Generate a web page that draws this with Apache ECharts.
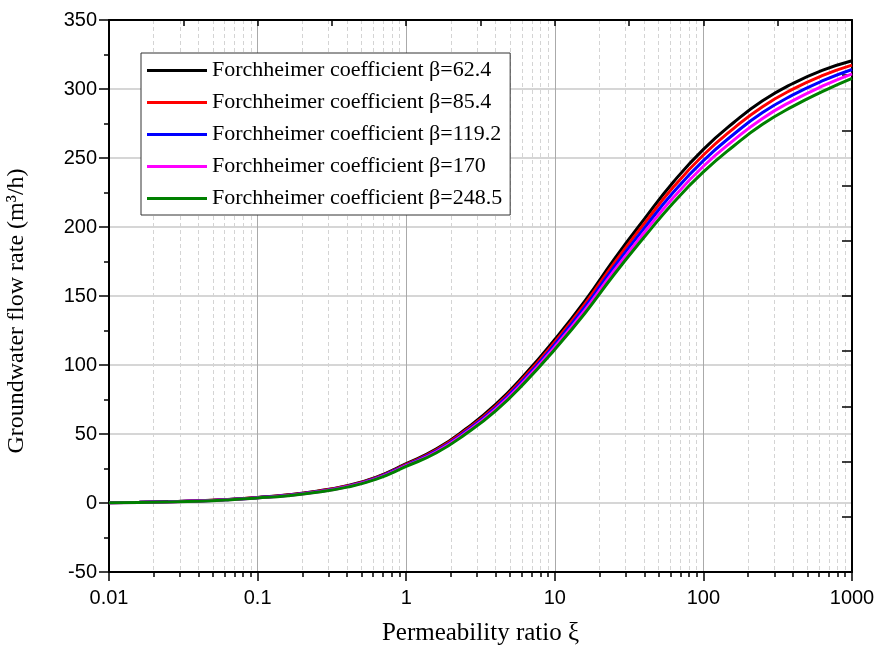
<!DOCTYPE html>
<html>
<head>
<meta charset="utf-8">
<script src="https://cdn.jsdelivr.net/npm/echarts@6/dist/echarts.min.js"></script>
<style>html,body{margin:0;padding:0;background:#fff;}#c{width:877px;height:651px;}</style>
</head>
<body>
<div id="c"></div>
<script>
// Permeability ratio ξ (x values)
const xi = [0.01,0.016,0.025,0.04,0.063,0.1,0.16,0.25,0.4,0.63,1,1.6,2.5,4,6.3,10,16,25,40,63,100,160,250,400,630,1000];
// Groundwater flow rate (m3/h) for each Forchheimer coefficient
const q624  = [0.3,0.6,1.0,1.6,2.6,4.0,5.9,8.6,12.6,18.8,28.5,39.2,53.4,71.4,93.2,118.5,146.7,176.4,205.7,232.8,256.3,275.7,291.4,304.0,313.5,320.5];
const q854  = [0.25,0.55,0.94,1.53,2.51,3.9,5.75,8.4,12.3,18.4,28.0,38.5,52.5,70.3,91.8,116.7,144.5,173.7,202.5,229.1,252.2,271.5,287.2,299.9,309.7,317.3];
const q1192 = [0.2,0.5,0.88,1.45,2.43,3.8,5.6,8.2,12.05,18.05,27.5,37.8,51.6,69.1,90.3,114.9,142.2,170.9,199.2,225.3,248.1,267.2,282.9,295.7,305.8,314.1];
const q170  = [0.15,0.45,0.81,1.38,2.34,3.7,5.45,8.0,11.8,17.7,27.0,37.1,50.7,68.0,88.9,113.1,140.0,168.2,196.0,221.5,244.0,262.9,278.7,291.6,302.0,311.0];
const q2485 = [0.1,0.4,0.75,1.3,2.25,3.6,5.3,7.8,11.5,17.3,26.5,36.4,49.8,66.8,87.4,111.3,137.7,165.4,192.7,217.8,239.9,258.7,274.4,287.4,298.1,307.7];
const seriesNames = ['Forchheimer coefficient β=62.4','Forchheimer coefficient β=85.4','Forchheimer coefficient β=119.2','Forchheimer coefficient β=170','Forchheimer coefficient β=248.5'];
const seriesColors = ['#000000','#ff0000','#0000ff','#ff00ff','#008000'];
const seriesValues = [q624,q854,q1192,q170,q2485];
const xTickLabels = ['0.01','0.1','1','10','100','1000'];
const yMin = -50, yMax = 350, yStep = 50;

// minor tick positions (log exponent space) for decoration axis
const minorLog = [];
for (let d = -2; d < 3; d++) { for (let m = 2; m <= 9; m++) minorLog.push(Math.log10(m) + d); }

const chart = echarts.init(document.getElementById('c'), null, {renderer:'canvas'});
const sans = 'Liberation Sans, Arial, sans-serif';
const serif = 'Liberation Serif, Times New Roman, serif';

const series = seriesNames.map((n, k) => ({
  name: n, type: 'line', xAxisIndex: 0, yAxisIndex: 0,
  data: xi.map((x, i) => [x, seriesValues[k][i]]),
  smooth: 0.5, symbol: 'none',
  lineStyle: {color: seriesColors[k], width: 3}, itemStyle: {color: seriesColors[k]},
  z: 3 + k
}));

chart.setOption({
  animation: false,
  backgroundColor: '#fff',
  grid: {left: 109, top: 20, right: 25, bottom: 79, containLabel: false, outerBoundsMode: 'none'},
  legend: {
    orient: 'vertical', left: 141, top: 53,
    icon: 'rect', itemWidth: 60, itemHeight: 3, itemGap: 9,
    padding: [6, 8, 5, 6],
    borderColor: '#333', borderWidth: 1, backgroundColor: '#fff',
    textStyle: {fontFamily: serif, fontSize: 22, color: '#000', lineHeight: 23},
    data: seriesNames, z: 10
  },
  xAxis: [
    {
      type: 'log', logBase: 10, min: 0.01, max: 1000, position: 'bottom',
      axisLine: {onZero: false, lineStyle: {color: '#000', width: 2}},
      axisTick: {inside: false, length: 9, lineStyle: {color: '#000', width: 1.5}},
      axisLabel: {fontFamily: sans, fontSize: 20, color: '#000', margin: 16,
        formatter: (v) => { const e = Math.round(Math.log10(v)); return xTickLabels[e + 2]; }},
      splitLine: {show: true, lineStyle: {color: '#aaaaaa', width: 1}},
      name: 'Permeability ratio ξ', nameLocation: 'middle', nameGap: 49,
      nameTextStyle: {fontFamily: serif, fontSize: 25, color: '#000'}
    },
    {
      type: 'value', min: -2, max: 3, position: 'bottom',
      axisLine: {show: false, onZero: false},
      axisTick: {show: true, inside: false, length: 5, customValues: minorLog, lineStyle: {color: '#000', width: 1.5}},
      axisLabel: {show: false},
      splitLine: {show: true, lineStyle: {color: '#d4d4d4', width: 1, type: [4, 3]}}
    },
    {
      type: 'value', min: -2, max: 3, interval: 0.5, position: 'top',
      axisLine: {show: true, onZero: false, lineStyle: {color: '#000', width: 2}},
      axisTick: {show: true, inside: true, length: 6, lineStyle: {color: '#000', width: 1.5}},
      axisLabel: {show: false}, splitLine: {show: false}
    }
  ],
  yAxis: [
    {
      type: 'value', min: yMin, max: yMax, interval: yStep, position: 'left',
      axisLine: {show: true, onZero: false, lineStyle: {color: '#000', width: 2}},
      axisTick: {show: true, inside: false, length: 10, lineStyle: {color: '#000', width: 1.5}},
      minorTick: {show: true, splitNumber: 2, length: 5, lineStyle: {color: '#000', width: 1.5}},
      axisLabel: {fontFamily: sans, fontSize: 20, color: '#000', margin: 12},
      splitLine: {show: true, lineStyle: {color: '#c8c8c8', width: 1.5}},
      name: 'Groundwater flow rate (m³/h)', nameLocation: 'middle', nameGap: 80,
      nameTextStyle: {fontFamily: serif, fontSize: 24, color: '#000', padding: [0, 30, 0, 0]}
    },
    {
      type: 'value', min: yMin, max: yMax, interval: 40, position: 'right',
      axisLine: {show: true, onZero: false, lineStyle: {color: '#000', width: 2}},
      axisTick: {show: true, inside: true, length: 10, lineStyle: {color: '#000', width: 1.5}},
      axisLabel: {show: false}, splitLine: {show: false}
    }
  ],
  series: series
});
</script>
</body>
</html>
